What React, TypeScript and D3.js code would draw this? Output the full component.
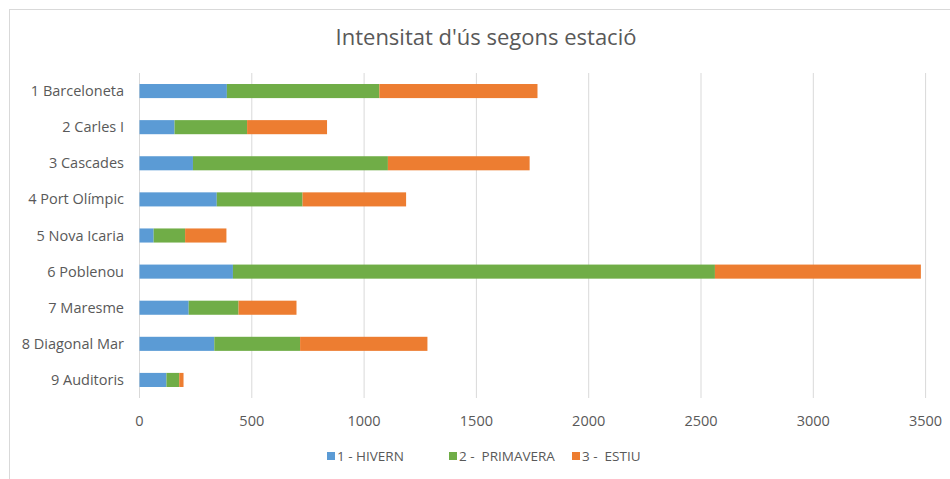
import React from "react";
import * as d3 from "d3";

const categories = [
  "1 Barceloneta",
  "2 Carles I",
  "3 Cascades",
  "4 Port Olímpic",
  "5 Nova Icaria",
  "6 Poblenou",
  "7 Maresme",
  "8 Diagonal Mar",
  "9 Auditoris",
];
const hivern = [389, 156, 238, 344, 63, 416, 219, 333, 120];
const primavera = [679, 323, 868, 382, 140, 2146, 222, 382, 57];
const estiu = [704, 356, 631, 461, 184, 917, 258, 567, 19];
const seriesNames = ["1 - HIVERN", "2 -  PRIMAVERA", "3 -  ESTIU"];
const seriesColors = ["#5B9BD5", "#70AD47", "#ED7D31"];
const xTicks = [0, 500, 1000, 1500, 2000, 2500, 3000, 3500];
const title = "Intensitat d'ús segons estació";

const W = 950;
const H = 479;
const FONT = "'Open Sans', sans-serif";
const TXT = "#595959";

export default function App() {
  const x = d3.scaleLinear().domain([0, 3500]).range([139.5, 925.6]);
  const y = d3
    .scaleBand<string>()
    .domain(categories)
    .range([73, 398])
    .paddingInner(0.61)
    .paddingOuter(0.305);

  const rows = categories.map((c, i) => ({ cat: c, h: hivern[i], p: primavera[i], e: estiu[i] }));
  const stack = d3.stack<any>().keys(["h", "p", "e"])(rows);

  const legendItems = [
    { x: 327, label: seriesNames[0], color: seriesColors[0] },
    { x: 449, label: seriesNames[1], color: seriesColors[1] },
    { x: 572, label: seriesNames[2], color: seriesColors[2] },
  ];

  return (
    <svg
      width={W}
      height={H}
      style={{ position: "absolute", left: 0, top: 0, background: "#fff" }}
      fontFamily={FONT}
    >
      <rect x={9.5} y={9.5} width={W + 10} height={H + 10} fill="#fff" stroke="#d9d9d9" />
      <text x={486} y={45} textAnchor="middle" fontSize={22} fill={TXT}>
        {title}
      </text>
      {xTicks.map((t) => (
        <line key={t} x1={x(t)} x2={x(t)} y1={73} y2={398} stroke="#d9d9d9" strokeWidth={1} />
      ))}
      {stack.map((s, si) => (
        <g key={si} fill={seriesColors[si]}>
          {s.map((d, i) => (
            <rect
              key={i}
              x={x(d[0])}
              y={y(categories[i])!}
              width={x(d[1]) - x(d[0])}
              height={y.bandwidth()}
            />
          ))}
        </g>
      ))}
      {categories.map((c) => (
        <text
          key={c}
          x={124}
          y={y(c)! + y.bandwidth() / 2}
          dy="0.35em"
          textAnchor="end"
          fontSize={14.5}
          fill={TXT}
        >
          {c}
        </text>
      ))}
      {xTicks.map((t) => (
        <text key={t} x={x(t)} y={426} textAnchor="middle" fontSize={14.5} fill={TXT}>
          {t}
        </text>
      ))}
      {legendItems.map((l) => (
        <g key={l.label}>
          <rect x={l.x} y={452} width={8} height={8} fill={l.color} />
          <text x={l.x + 10} y={461} fontSize={13.5} fill={TXT} style={{ whiteSpace: "pre" }}>
            {l.label}
          </text>
        </g>
      ))}
    </svg>
  );
}
